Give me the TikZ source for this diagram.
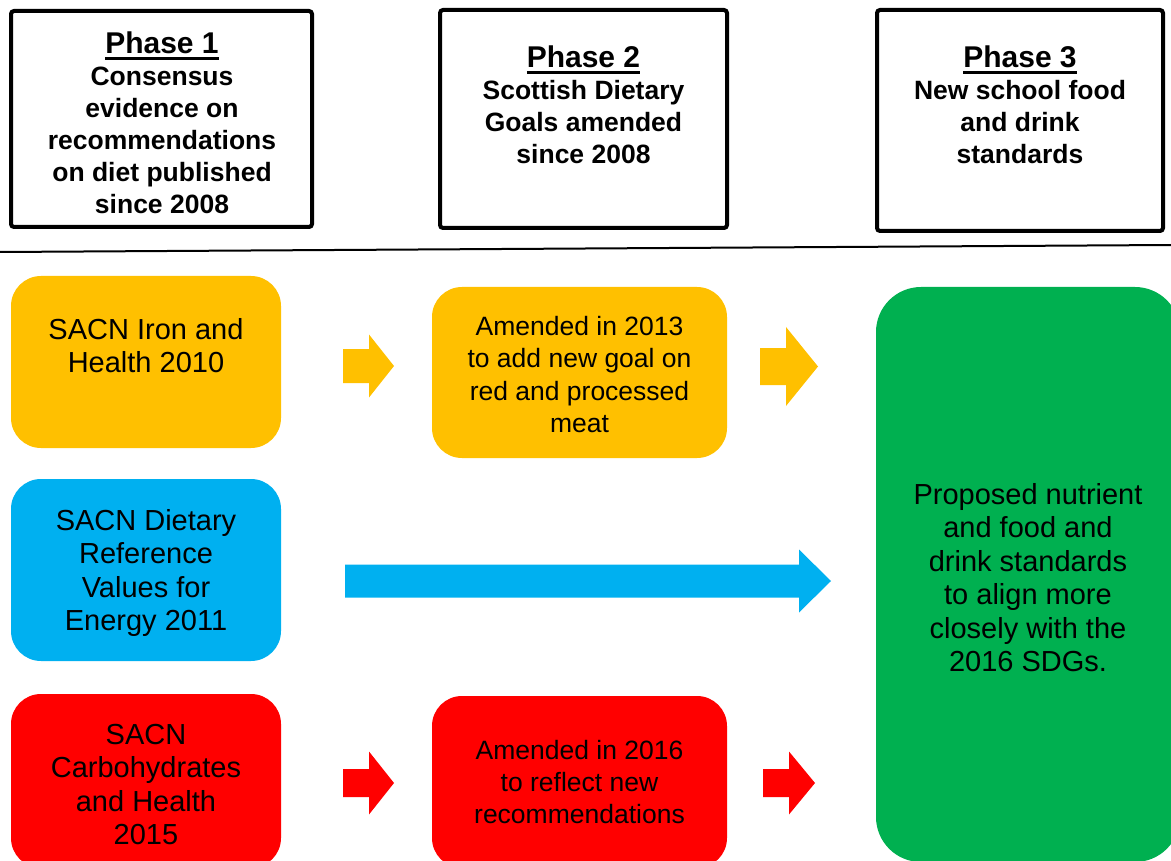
\documentclass[tikz,border=0pt]{standalone}
\usepackage{fontspec}
\setmainfont{Liberation Sans}

\definecolor{mango}{HTML}{FFC000}
\definecolor{sky}{HTML}{00B0F0}
\definecolor{chilli}{HTML}{FF0000}
\definecolor{leaf}{HTML}{00B050}

% thick underline for the phase titles
\newcommand{\phaseul}[1]{\setbox0\hbox{#1}\rlap{\vrule height -3pt depth 6pt width \wd0}\box0}
% taller first line pushes the card text a little down
\newcommand{\dropline}[1]{\rule{0pt}{#1}}

\tikzset{
    phasebox/.style={draw, line width=4pt, rounded corners=3pt},
    phasetext/.style={anchor=north, align=center, inner sep=0pt, font=\fontsize{26.5}{32}\selectfont\bfseries},
    card/.style={rounded corners=30pt, align=center, inner sep=0pt, text=black},
    bigfont/.style={font=\fontsize{29}{33.5}\selectfont},
    smallfont/.style={font=\fontsize{26.5}{32.3}\selectfont},
}

\begin{document}
\begin{tikzpicture}[x=1pt, y=-1pt]
    \useasboundingbox (0, 0) rectangle (1171, 861);
    \clip (0, 0) rectangle (1171, 861);

    % phase headers
    \node[phasebox, minimum width=301pt, minimum height=216pt] (p1) at (161.5, 119) {};
    \node[phasebox, minimum width=287pt, minimum height=218pt] (p2) at (583.5, 119) {};
    \node[phasebox, minimum width=286pt, minimum height=221pt] (p3) at (1020, 120.5) {};

    \node[phasetext] (p1text) at (162, 32)
        {{\fontsize{30}{32}\selectfont\phaseul{Phase 1}}\\Consensus\\evidence on\\recommendations\\on diet published\\since 2008};
    \node[phasetext] (p2text) at (583.5, 46)
        {{\fontsize{30}{32}\selectfont\phaseul{Phase 2}}\\Scottish Dietary\\Goals amended\\since 2008};
    \node[phasetext] (p3text) at (1020, 46)
        {{\fontsize{30}{32}\selectfont\phaseul{Phase 3}}\\New school food\\and drink\\standards};

    % divider
    \draw[line width=2pt] (0, 252) -- (1171, 245);

    % left column
    \node[card, bigfont, fill=mango, minimum width=270pt, minimum height=172pt] (iron) at (146, 362)
        {SACN Iron and\\Health 2010\\\rule{0pt}{20pt}};
    \node[card, bigfont, fill=sky, minimum width=270pt, minimum height=182pt] (energy) at (146, 570)
        {\dropline{27pt}SACN Dietary\\Reference\\Values for\\Energy 2011};
    \node[card, bigfont, fill=chilli, minimum width=270pt, minimum height=174pt] (carbs) at (146, 781)
        {\dropline{27pt}SACN\\Carbohydrates\\and Health\\2015};

    % middle column
    \node[card, smallfont, fill=mango, minimum width=295pt, minimum height=171pt] (goal13) at (579.5, 372.5)
        {\dropline{23.5pt}Amended in 2013\\to add new goal on\\red and processed\\meat};
    \node[card, smallfont, fill=chilli, minimum width=295pt, minimum height=172pt] (goal16) at (579.5, 782)
        {Amended in 2016\\to reflect new\\recommendations};

    % right column
    \node[card, bigfont, fill=leaf, rounded corners=45pt, minimum width=304pt, minimum height=575pt] (standards) at (1028, 574.5)
        {\dropline{27pt}Proposed nutrient\\and food and\\drink standards\\to align more\\closely with the\\2016 SDGs.};

    % block arrows
    \foreach \xa/\xb/\xt/\yc/\hs/\hh/\col in {343/369/394/366/17/31.5/mango, 760/786/818/366.5/18.5/39.5/mango,
            345/799/831/581/16.5/31.5/sky, 343/369/394/783/14/31.5/chilli, 763/789/815/783/14/31.5/chilli}
        \fill[\col] (\xa, \yc-\hs) -- (\xb, \yc-\hs) -- (\xb, \yc-\hh) -- (\xt, \yc)
            -- (\xb, \yc+\hh) -- (\xb, \yc+\hs) -- (\xa, \yc+\hs) -- cycle;

\end{tikzpicture}
\end{document}
